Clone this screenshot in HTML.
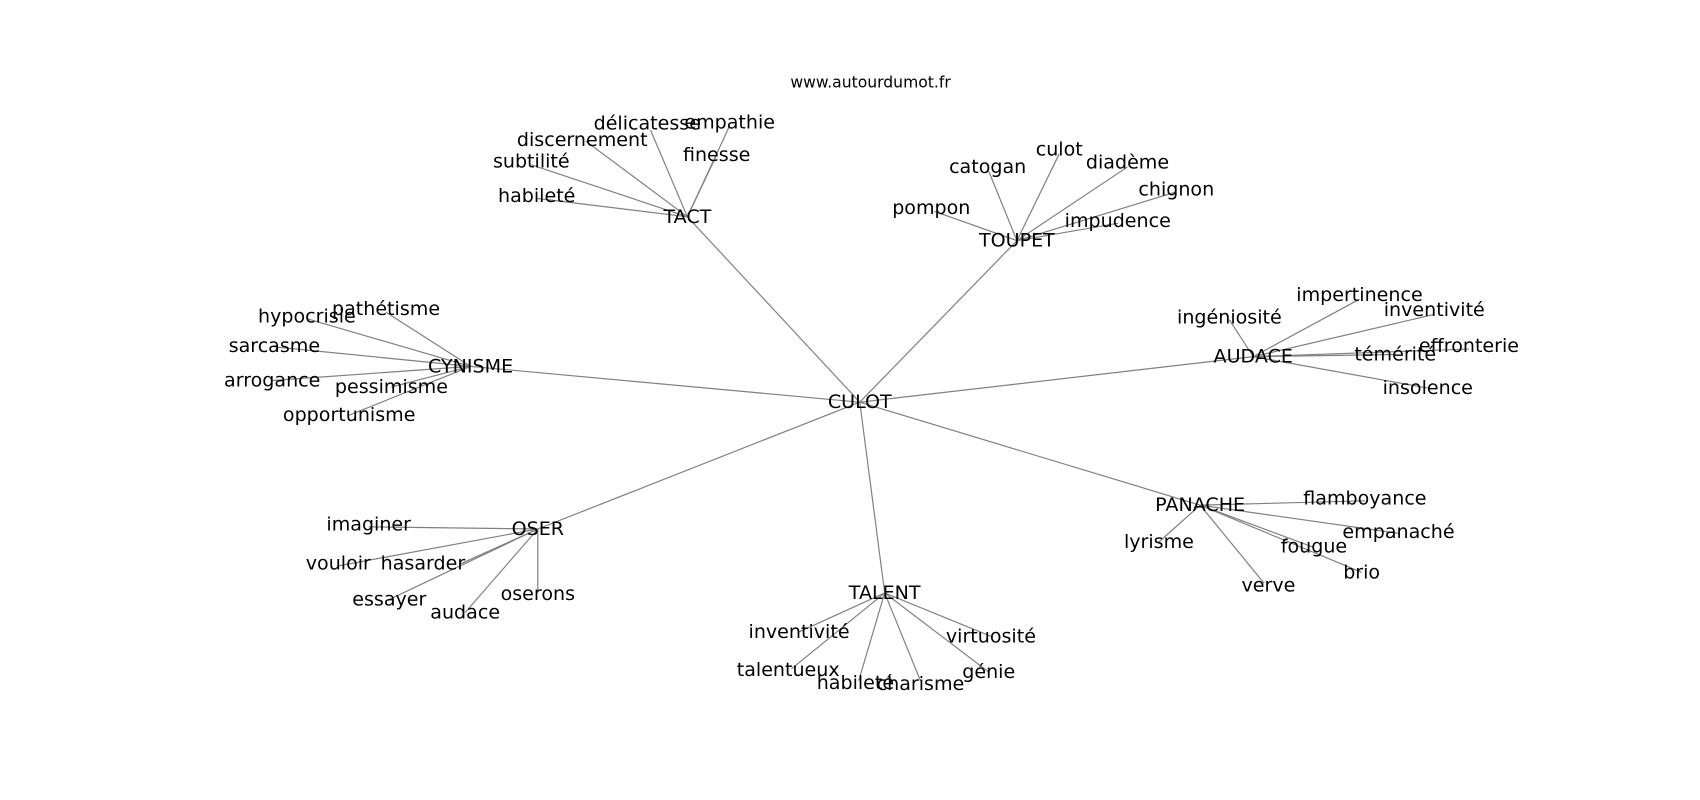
<!DOCTYPE html>
<html><head><meta charset="utf-8"><style>
html,body{margin:0;padding:0;background:#fff;}
svg{display:block;}
text{font-family:"DejaVu Sans","Liberation Sans",sans-serif;font-size:17.6px;fill:#000;text-anchor:middle;dominant-baseline:central;}
line{stroke:#808080;stroke-width:1.1;}
</style></head><body>
<svg width="1700" height="800" viewBox="0 0 1568 738" xmlns="http://www.w3.org/2000/svg">
<g>
<line x1="793" y1="371" x2="634" y2="200"/>
<line x1="793" y1="371" x2="938" y2="222"/>
<line x1="793" y1="371" x2="1156" y2="329"/>
<line x1="793" y1="371" x2="434" y2="338"/>
<line x1="793" y1="371" x2="496" y2="488"/>
<line x1="793" y1="371" x2="816" y2="547"/>
<line x1="793" y1="371" x2="1107" y2="466"/>

<line x1="634" y1="200" x2="600" y2="120"/>
<line x1="634" y1="200" x2="673" y2="116"/>
<line x1="634" y1="200" x2="540" y2="130"/>
<line x1="634" y1="200" x2="490" y2="152"/>
<line x1="634" y1="200" x2="495" y2="183"/>
<line x1="634" y1="200" x2="661" y2="143"/>

<line x1="938" y1="222" x2="912" y2="158"/>
<line x1="938" y1="222" x2="977" y2="142"/>
<line x1="938" y1="222" x2="1040" y2="154"/>
<line x1="938" y1="222" x2="1085" y2="177"/>
<line x1="938" y1="222" x2="1031" y2="206"/>
<line x1="938" y1="222" x2="862" y2="195"/>

<line x1="1156" y1="329" x2="1134" y2="295"/>
<line x1="1156" y1="329" x2="1254" y2="276"/>
<line x1="1156" y1="329" x2="1323" y2="290"/>
<line x1="1156" y1="329" x2="1287" y2="327"/>
<line x1="1156" y1="329" x2="1355" y2="322"/>
<line x1="1156" y1="329" x2="1317" y2="358"/>

<line x1="434" y1="338" x2="356" y2="288"/>
<line x1="434" y1="338" x2="283" y2="294"/>
<line x1="434" y1="338" x2="253" y2="320"/>
<line x1="434" y1="338" x2="251" y2="351"/>
<line x1="434" y1="338" x2="361" y2="357"/>
<line x1="434" y1="338" x2="322" y2="383"/>

<line x1="496" y1="488" x2="340" y2="486"/>
<line x1="496" y1="488" x2="312" y2="522"/>
<line x1="496" y1="488" x2="425" y2="520"/>
<line x1="496" y1="488" x2="359" y2="553"/>
<line x1="496" y1="488" x2="429" y2="565"/>
<line x1="496" y1="488" x2="496" y2="546"/>

<line x1="816" y1="547" x2="737" y2="583"/>
<line x1="816" y1="547" x2="730" y2="617"/>
<line x1="816" y1="547" x2="792" y2="628"/>
<line x1="816" y1="547" x2="849" y2="628"/>
<line x1="816" y1="547" x2="912" y2="620"/>
<line x1="816" y1="547" x2="914" y2="587"/>

<line x1="1107" y1="466" x2="1259" y2="462"/>
<line x1="1107" y1="466" x2="1290" y2="492"/>
<line x1="1107" y1="466" x2="1212" y2="505"/>
<line x1="1107" y1="466" x2="1256" y2="528"/>
<line x1="1107" y1="466" x2="1166" y2="538"/>
<line x1="1107" y1="466" x2="1069" y2="500"/>
</g>
<text x="803" y="76" style="font-size:14.4px">www.autourdumot.fr</text>

<text x="793" y="371">CULOT</text>
<text x="634" y="200">TACT</text>
<text x="938" y="222">TOUPET</text>
<text x="1156" y="329">AUDACE</text>
<text x="434" y="338">CYNISME</text>
<text x="496" y="488">OSER</text>
<text x="816" y="547">TALENT</text>
<text x="1107" y="466">PANACHE</text>

<text x="597" y="114">délicatesse</text>
<text x="673" y="113">empathie</text>
<text x="537" y="129">discernement</text>
<text x="490" y="149">subtilité</text>
<text x="495" y="181">habileté</text>
<text x="661" y="143">finesse</text>

<text x="911" y="154">catogan</text>
<text x="977" y="138">culot</text>
<text x="1040" y="150">diadème</text>
<text x="1085" y="175">chignon</text>
<text x="1031" y="204">impudence</text>
<text x="859" y="192">pompon</text>

<text x="1134" y="293">ingéniosité</text>
<text x="1254" y="272">impertinence</text>
<text x="1323" y="286">inventivité</text>
<text x="1287" y="327">témérité</text>
<text x="1355" y="319">effronterie</text>
<text x="1317" y="358">insolence</text>

<text x="356" y="285">pathétisme</text>
<text x="283" y="292">hypocrisie</text>
<text x="253" y="319">sarcasme</text>
<text x="251" y="351">arrogance</text>
<text x="361" y="357">pessimisme</text>
<text x="322" y="383">opportunisme</text>

<text x="340" y="484">imaginer</text>
<text x="312" y="520">vouloir</text>
<text x="390" y="520">hasarder</text>
<text x="359" y="553">essayer</text>
<text x="429" y="565">audace</text>
<text x="496" y="548">oserons</text>

<text x="737" y="583">inventivité</text>
<text x="727" y="618">talentueux</text>
<text x="789" y="630">habileté</text>
<text x="849" y="631">charisme</text>
<text x="912" y="620">génie</text>
<text x="914" y="587">virtuosité</text>

<text x="1259" y="460">flamboyance</text>
<text x="1290" y="491">empanaché</text>
<text x="1212" y="504">fougue</text>
<text x="1256" y="528">brio</text>
<text x="1170" y="540">verve</text>
<text x="1069" y="500">lyrisme</text>
</svg>
</body></html>
